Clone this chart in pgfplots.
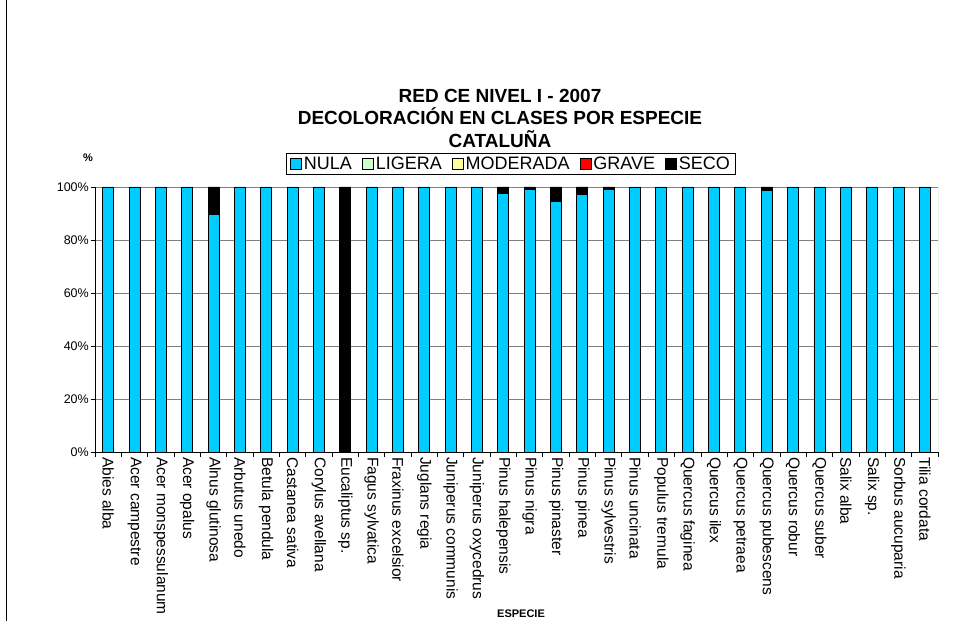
\documentclass[border=0pt]{standalone}
\usepackage{fontspec}
\setmainfont{Liberation Sans}
\usepackage{pgfplots}
\pgfplotsset{compat=1.18}
\definecolor{nula}{HTML}{00CCFF}
\definecolor{ligera}{HTML}{CCFFCC}
\definecolor{moderada}{HTML}{FFFF99}
\definecolor{grave}{HTML}{FF0000}
\definecolor{seco}{HTML}{000000}
\pgfplotsset{sq/.style={legend image code/.code={\draw[##1,draw=black,line width=0.8bp] (0bp,-5.5bp) rectangle (11bp,5.5bp);}}}
\begin{document}
\begin{tikzpicture}
\path[use as bounding box] (0bp,0bp) rectangle (979bp,621bp);
\draw[line width=1.2bp] (6.5bp,0bp) -- (6.5bp,621bp);
\node[font=\bfseries\fontsize{19bp}{22.5bp}\selectfont, align=center] at (500bp,503bp) {RED CE NIVEL I - 2007\\DECOLORACIÓN EN CLASES POR ESPECIE\\CATALUÑA};
\node[font=\bfseries\fontsize{11bp}{13bp}\selectfont] at (88bp,463bp) {\%};
\node[font=\bfseries\fontsize{11bp}{13bp}\selectfont] at (521bp,7bp) {ESPECIE};
\begin{axis}[
  at={(95bp,169bp)}, anchor=south west,
  scale only axis, width=843bp, height=265bp,
  ybar stacked, bar width=11bp,
  xmin=-0.5, xmax=31.5, ymin=0, ymax=100,
  enlarge x limits=false, enlarge y limits=false,
  axis x line*=bottom, axis y line*=left,
  axis line style={black, line width=0.8bp},
  tick align=outside,
  xtick={0,...,31},
  xticklabels={Abies alba, Acer campestre, Acer monspessulanum, Acer opalus, Alnus glutinosa, Arbutus unedo, Betula pendula, Castanea sativa, Corylus avellana, Eucaliptus sp., Fagus sylvatica, Fraxinus excelsior, Juglans regia, Juniperus communis, Juniperus oxycedrus, Pinus halepensis, Pinus nigra, Pinus pinaster, Pinus pinea, Pinus sylvestris, Pinus uncinata, Populus tremula, Quercus faginea, Quercus ilex, Quercus petraea, Quercus pubescens, Quercus robur, Quercus suber, Salix alba, Salix sp., Sorbus aucuparia, Tilia cordata},
  x tick style={draw=none},
  minor xtick={-0.5,0.5,...,31.5},
  minor x tick style={draw=black, line width=0.8bp},
  minor tick length=5bp,
  ytick={0,20,40,60,80,100},
  yticklabels={0\%,20\%,40\%,60\%,80\%,100\%},
  y tick style={draw=black, line width=0.8bp},
  major tick length=4bp,
  ymajorgrids, grid style={draw=gray, line width=0.8bp},
  xticklabel style={rotate=-90, anchor=west, inner sep=1bp, font=\fontsize{15.5bp}{17bp}\selectfont},
  yticklabel style={font=\fontsize{12.5bp}{14bp}\selectfont, inner sep=2bp},
  legend style={at={(0.4935,1.087)}, anchor=center, legend columns=-1, draw=black, line width=0.8bp,
    font=\fontsize{18bp}{19bp}\selectfont, inner xsep=4bp, inner ysep=1.5bp,
    /tikz/every even column/.append style={column sep=8bp}},
]
\addplot[fill=nula, draw=black, line width=0.9bp, sq] coordinates {
(0,100) (1,100) (2,100) (3,100) (4,89.6) (5,100) (6,100) (7,100) (8,100) (9,0)
(10,100) (11,100) (12,100) (13,100) (14,100) (15,97.5) (16,99.0) (17,94.7) (18,97.2) (19,99.2)
(20,100) (21,100) (22,100) (23,100) (24,100) (25,98.6) (26,100) (27,100) (28,100) (29,100)
(30,100) (31,100)};
\addlegendimage{fill=ligera, draw=black, sq}
\addlegendimage{fill=moderada, draw=black, sq}
\addlegendimage{fill=grave, draw=black, sq}
\addplot[fill=seco, draw=black, line width=0.9bp, sq] coordinates {
(0,0) (1,0) (2,0) (3,0) (4,10.4) (5,0) (6,0) (7,0) (8,0) (9,100)
(10,0) (11,0) (12,0) (13,0) (14,0) (15,2.5) (16,1.0) (17,5.3) (18,2.8) (19,0.8)
(20,0) (21,0) (22,0) (23,0) (24,0) (25,1.4) (26,0) (27,0) (28,0) (29,0)
(30,0) (31,0)};
\legend{NULA,LIGERA,MODERADA,GRAVE,SECO}
\draw[gray, line width=0.8bp] (rel axis cs:1,0) -- (rel axis cs:1,1);
\end{axis}
\end{tikzpicture}
\end{document}
